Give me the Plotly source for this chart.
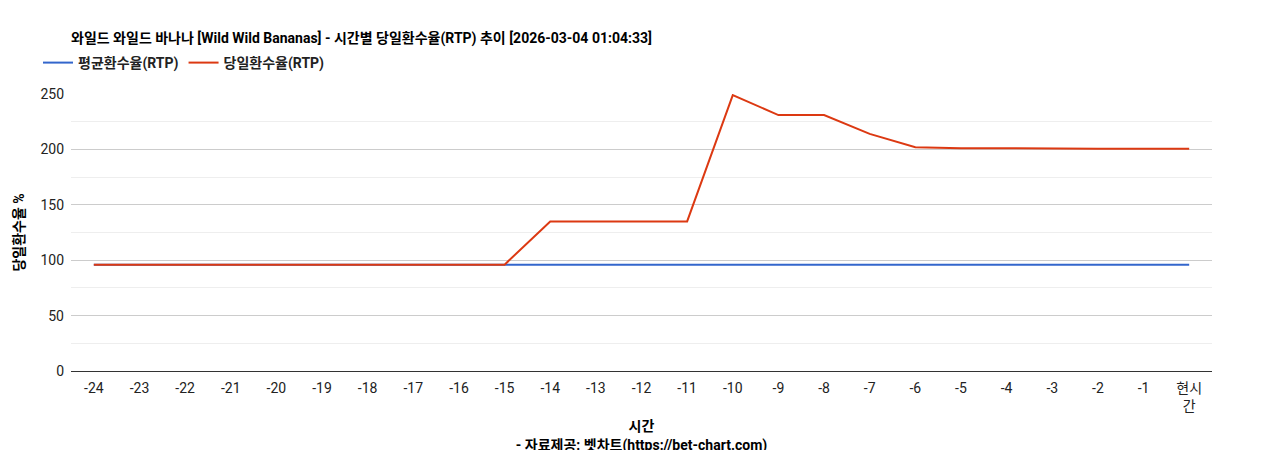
import plotly.graph_objects as go

categories = [str(i) for i in range(-24, 0)] + ["현시<br>간"]
avg_rtp = [96] * 25
day_rtp = [96]*10 + [135, 135, 135, 135, 249, 231, 231, 214, 202, 201, 201, 200.5, 200.5, 200.5, 200.5]

font = "Roboto, Noto Sans CJK KR, sans-serif"
fig = go.Figure()
fig.add_trace(go.Scatter(x=categories, y=avg_rtp, mode="lines", name="<b>평균환수율(RTP)</b>",
                         line=dict(color="#3366cc", width=2)))
fig.add_trace(go.Scatter(x=categories, y=day_rtp, mode="lines", name="<b>당일환수율(RTP)</b>",
                         line=dict(color="#dc3912", width=2)))
fig.update_layout(
    width=1268, height=450, margin=dict(l=63, r=64, t=86, b=87, autoexpand=False),
    plot_bgcolor="white", paper_bgcolor="white",
    font=dict(family=font, size=14, color="#222"),
    title=dict(text="<b>와일드 와일드 바나나 [Wild Wild Bananas] - 시간별 당일환수율(RTP) 추이 [2026-03-04 01:04:33]</b>",
               x=63/1268, xref="container", xanchor="left", y=1-30/450, yanchor="middle", font=dict(size=14, color="#000")),
    legend=dict(orientation="h", x=30/1268, xref="container", xanchor="left", y=1-55/450, yref="container", yanchor="middle",
                font=dict(size=14, color="#222")),
    showlegend=True,
    xaxis=dict(type="category", range=[-0.5, 24.5], showgrid=False, showline=True, linecolor="#333", ticks="",
               tickfont=dict(size=14, color="#222"), ticklabelstandoff=4, automargin=False,
               title=dict(text="<b>시간</b><br><b>- 자료제공: 벳차트(https://bet-chart.com)</b>", font=dict(size=14, color="#000"), standoff=8)),
    yaxis=dict(range=[0, 250], tickvals=[0, 50, 100, 150, 200, 250], gridcolor="#ccc", automargin=False,
               zeroline=False, tickfont=dict(size=14, color="#222"), ticklabelstandoff=6,
               minor=dict(tickvals=[25, 75, 125, 175, 225], showgrid=True, gridcolor="#eee"),
               title=dict(text="<b>당일환수율 %</b>", font=dict(size=14, color="#000"), standoff=12)),
)
fig.write_html("out.html")
